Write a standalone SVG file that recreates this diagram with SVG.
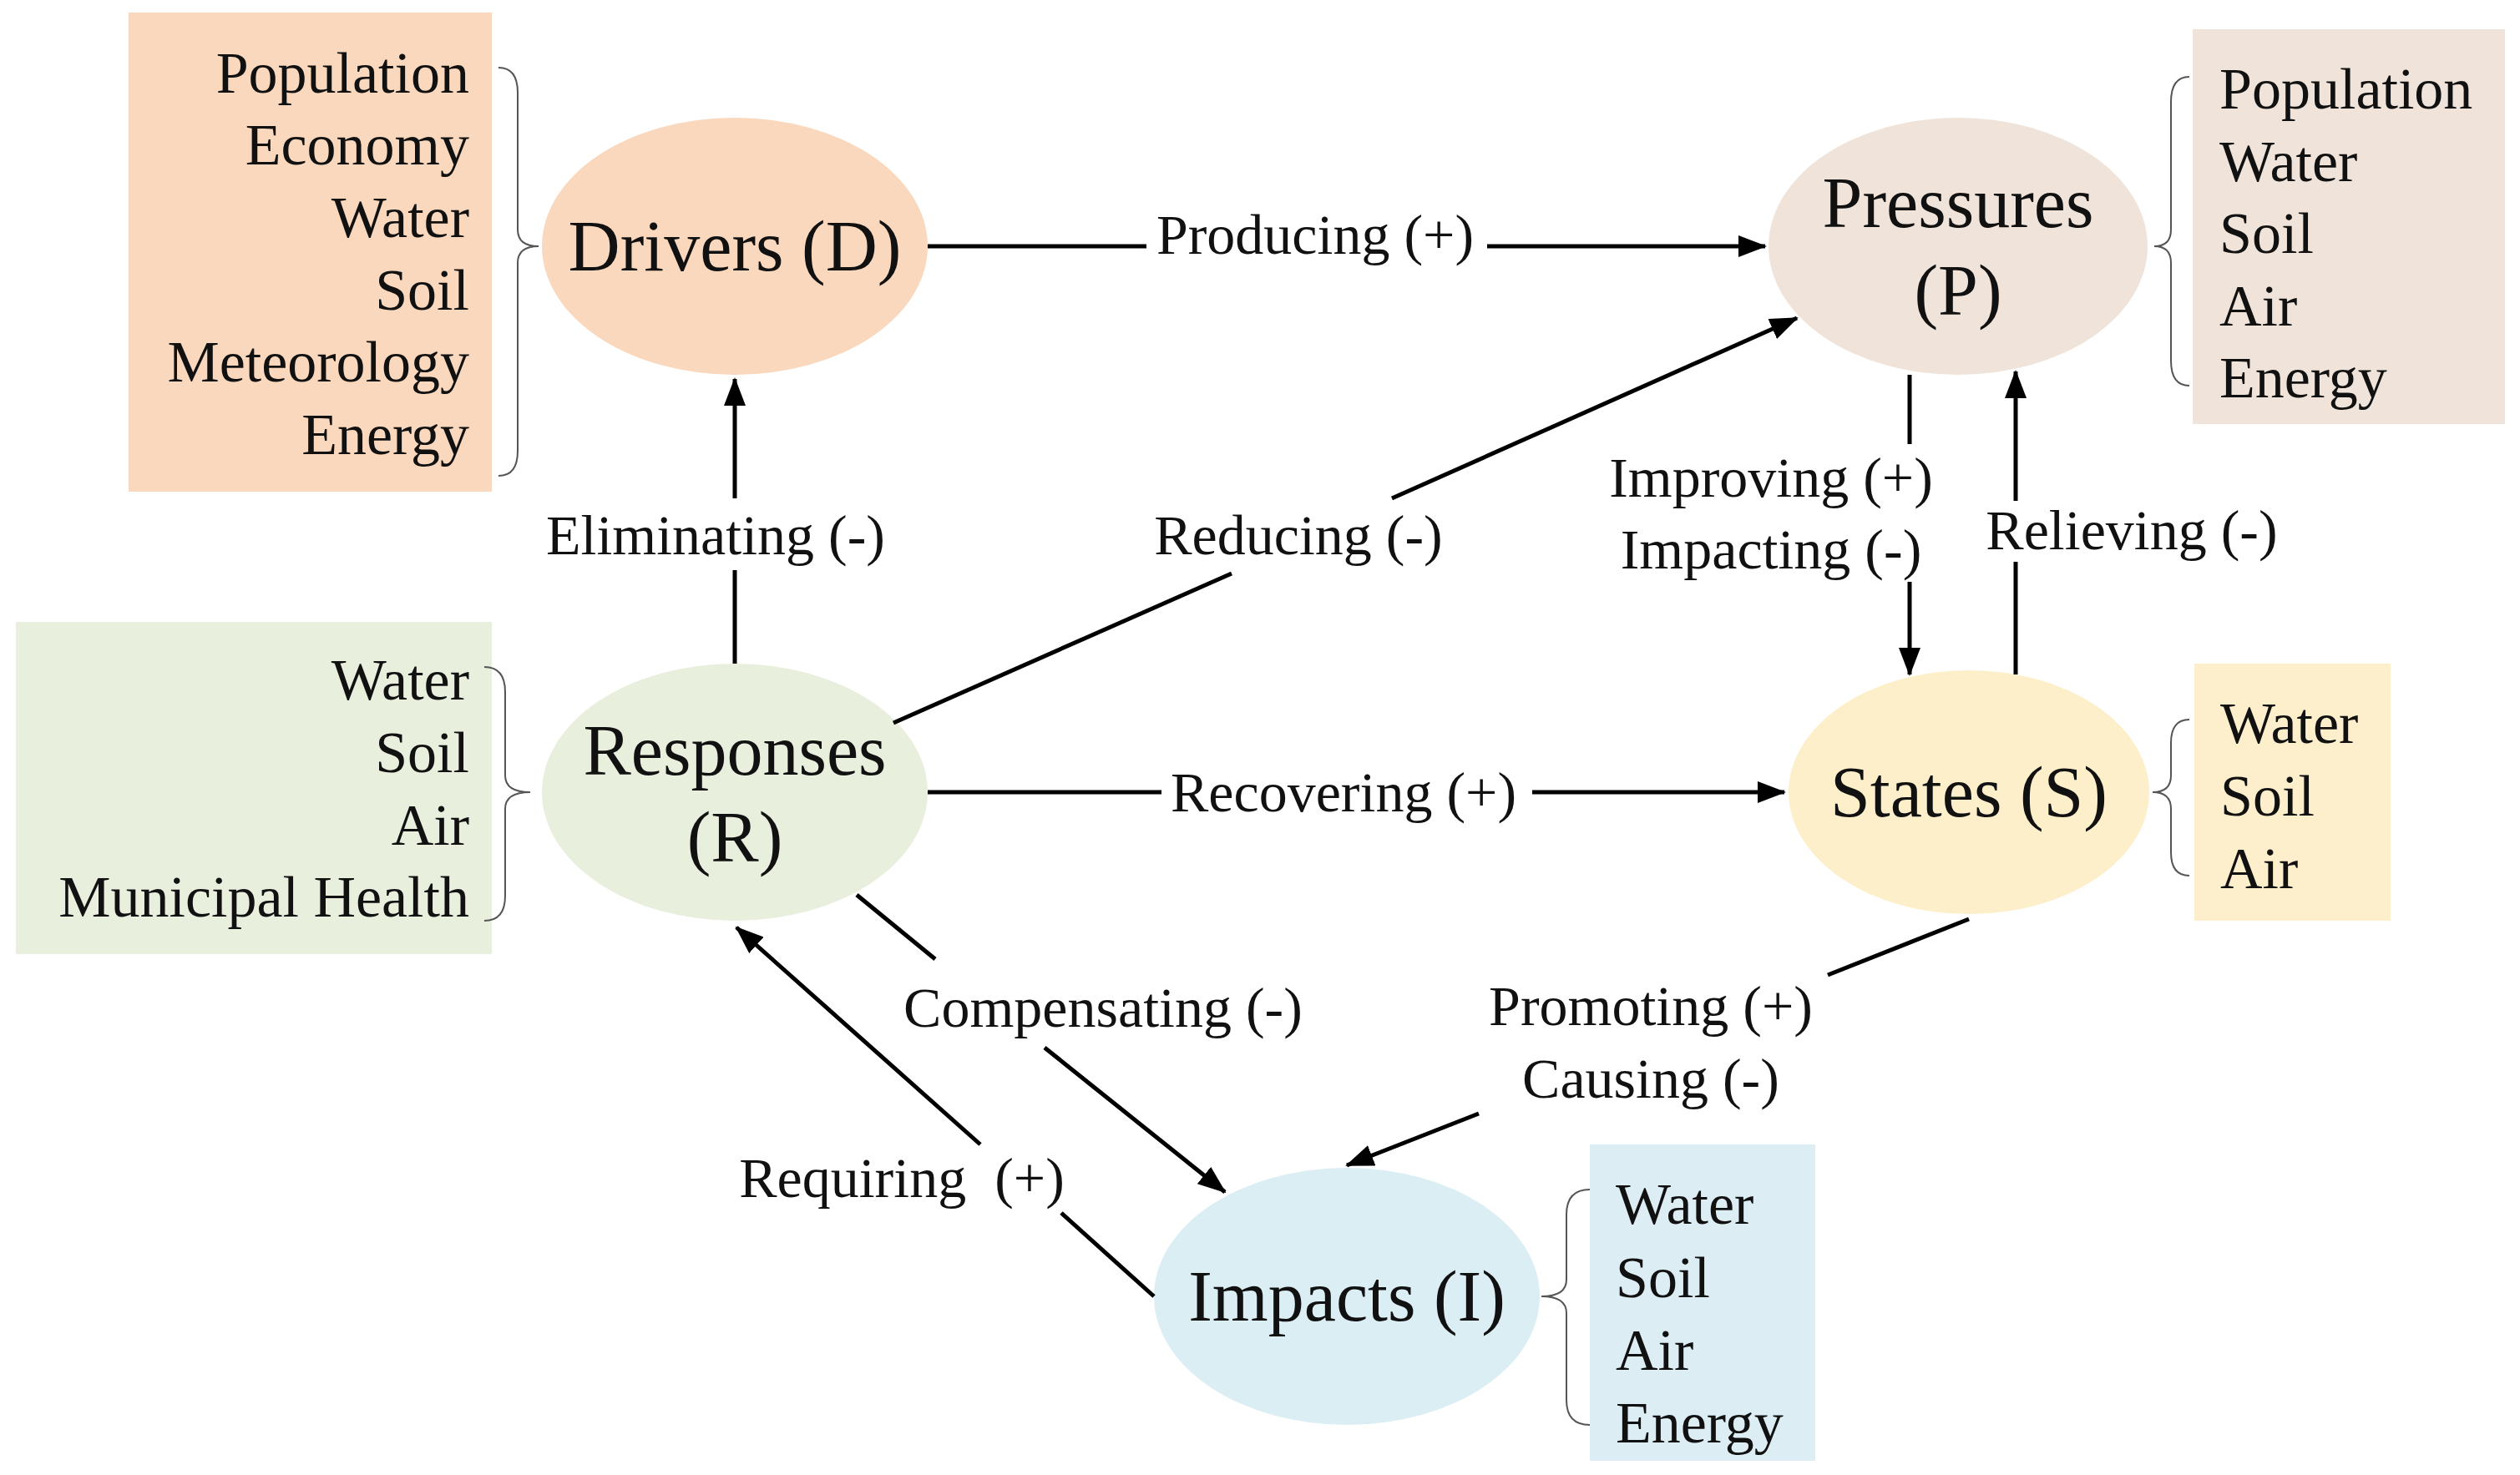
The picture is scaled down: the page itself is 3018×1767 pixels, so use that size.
<svg xmlns="http://www.w3.org/2000/svg" width="3018" height="1767" viewBox="0 0 3018 1767">
<style>
text{font-family:"Liberation Serif","Times New Roman",serif;fill:#111}
.it{font-size:70px;dominant-baseline:central}
.r{text-anchor:end}
.nd{font-size:86px;text-anchor:middle;dominant-baseline:central}
.lb{font-size:68px;text-anchor:middle;dominant-baseline:central}
.br{fill:none;stroke:#555;stroke-width:2}
.c{stroke:#000;stroke-width:5;fill:none}
.a{marker-end:url(#ah)}
</style>
<defs>
<marker id="ah" markerUnits="userSpaceOnUse" markerWidth="34" markerHeight="26" refX="32" refY="13" orient="auto"><path d="M0,0 L34,13 L0,26 Z" fill="#000"/></marker>
</defs>
<g id="drivers-box"><rect x="154" y="15" width="435" height="574" fill="#fad8bd"/>
<text class="it r" x="562" y="87">Population</text><text class="it r" x="562" y="173">Economy</text><text class="it r" x="562" y="260">Water</text><text class="it r" x="562" y="347">Soil</text><text class="it r" x="562" y="433">Meteorology</text><text class="it r" x="562" y="520">Energy</text>
<path class="br" d="M597,81 Q620,81 620,111 L620,275 Q620,295 645,295 Q620,295 620,315 L620,540 Q620,570 597,570"/></g>
<g id="drivers"><ellipse cx="880" cy="295" rx="231" ry="154" fill="#fad8bd"/><text class="nd" x="880" y="295">Drivers (D)</text></g>
<g id="pressures"><ellipse cx="2345" cy="295" rx="227" ry="154" fill="#f0e4da"/><text class="nd" x="2345" y="243">Pressures</text><text class="nd" x="2345" y="348">(P)</text></g>
<g id="pressures-box"><rect x="2626" y="35" width="374" height="473" fill="#f0e4da"/>
<text class="it" x="2658" y="106">Population</text><text class="it" x="2658" y="193">Water</text><text class="it" x="2658" y="279">Soil</text><text class="it" x="2658" y="366">Air</text><text class="it" x="2658" y="452">Energy</text>
<path class="br" d="M2622,92 Q2600,92 2600,122 L2600,275 Q2600,295 2580,295 Q2600,295 2600,315 L2600,432 Q2600,462 2622,462"/></g>
<g id="responses-box"><rect x="19" y="745" width="570" height="398" fill="#e9efdd"/>
<text class="it r" x="562" y="814">Water</text><text class="it r" x="562" y="901">Soil</text><text class="it r" x="562" y="988">Air</text><text class="it r" x="562" y="1074">Municipal Health</text>
<path class="br" d="M580,799 Q605,799 605,829 L605,929 Q605,949 635,949 Q605,949 605,969 L605,1073 Q605,1103 580,1103"/></g>
<g id="responses"><ellipse cx="880" cy="949" rx="231" ry="154" fill="#e9efdd"/><text class="nd" x="880" y="899">Responses</text><text class="nd" x="880" y="1003">(R)</text></g>
<g id="states"><ellipse cx="2358" cy="949" rx="216" ry="146" fill="#fdefca"/><text class="nd" x="2358" y="949">States (S)</text></g>
<g id="states-box"><rect x="2628" y="795" width="235" height="308" fill="#fdefcc"/>
<text class="it" x="2659" y="866">Water</text><text class="it" x="2659" y="953">Soil</text><text class="it" x="2659" y="1040">Air</text>
<path class="br" d="M2622,862 Q2600,862 2600,890 L2600,929 Q2600,949 2578,949 Q2600,949 2600,969 L2600,1021 Q2600,1049 2622,1049"/></g>
<g id="impacts"><ellipse cx="1613" cy="1553" rx="231" ry="154" fill="#dbeef4"/><text class="nd" x="1613" y="1553">Impacts (I)</text></g>
<g id="impacts-box"><rect x="1904" y="1371" width="270" height="379" fill="#dcedf3"/>
<text class="it" x="1935" y="1442">Water</text><text class="it" x="1935" y="1530">Soil</text><text class="it" x="1935" y="1617">Air</text><text class="it" x="1935" y="1704">Energy</text>
<path class="br" d="M1904,1425 Q1876,1425 1876,1455 L1876,1533 Q1876,1553 1846,1553 Q1876,1553 1876,1573 L1876,1677 Q1876,1707 1904,1707"/></g>
<g id="connectors">
<path class="c" d="M1111,295 L1373,295"/><path class="c a" d="M1781,295 L2114,295"/><text class="lb" x="1575" y="281">Producing (+)</text>
<path class="c" d="M880,795 L880,683"/><path class="c a" d="M880,597 L880,454"/><text class="lb" x="857" y="641">Eliminating (-)</text>
<path class="c" d="M1070,866 L1475,687"/><path class="c a" d="M1667,597 L2152,381"/><text class="lb" x="1555" y="641">Reducing (-)</text>
<path class="c" d="M2287,449 L2287,532"/><path class="c a" d="M2287,697 L2287,808"/><text class="lb" x="2121" y="572">Improving (+)</text><text class="lb" x="2121" y="658">Impacting (-)</text>
<path class="c" d="M2414,808 L2414,673"/><path class="c a" d="M2414,600 L2414,445"/><text class="lb" x="2553" y="635">Relieving (-)</text>
<path class="c" d="M1111,949 L1391,949"/><path class="c a" d="M1835,949 L2137,949"/><text class="lb" x="1609" y="949">Recovering (+)</text>
<path class="c" d="M1026,1072 L1120,1149"/><path class="c a" d="M1251,1255 L1467,1428"/><text class="lb" x="1321" y="1207">Compensating (-)</text>
<path class="c" d="M1382,1553 L1271,1453"/><path class="c a" d="M1174,1371 L882,1111"/><text class="lb" x="1080" y="1411" xml:space="preserve">Requiring  (+)</text>
<path class="c" d="M2358,1101 L2189,1168"/><path class="c a" d="M1771,1334 L1613,1396"/><text class="lb" x="1977" y="1205">Promoting (+)</text><text class="lb" x="1977" y="1292">Causing (-)</text>
</g>
</svg>
